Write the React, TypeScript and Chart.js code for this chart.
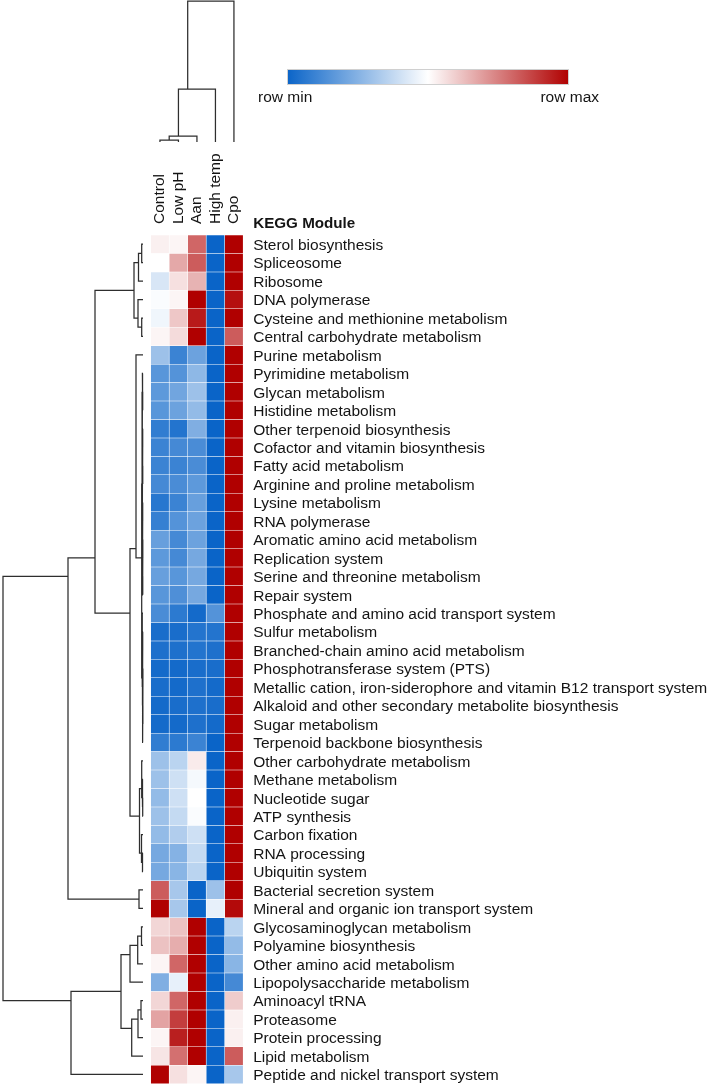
import React, { useEffect, useRef } from 'react';
import { Chart, registerables } from 'chart.js';

Chart.register(...registerables);

// ---------- data ----------
const modules = [
  'Sterol biosynthesis',
  'Spliceosome',
  'Ribosome',
  'DNA polymerase',
  'Cysteine and methionine metabolism',
  'Central carbohydrate metabolism',
  'Purine metabolism',
  'Pyrimidine metabolism',
  'Glycan metabolism',
  'Histidine metabolism',
  'Other terpenoid biosynthesis',
  'Cofactor and vitamin biosynthesis',
  'Fatty acid metabolism',
  'Arginine and proline metabolism',
  'Lysine metabolism',
  'RNA polymerase',
  'Aromatic amino acid metabolism',
  'Replication system',
  'Serine and threonine metabolism',
  'Repair system',
  'Phosphate and amino acid transport system',
  'Sulfur metabolism',
  'Branched-chain amino acid metabolism',
  'Phosphotransferase system (PTS)',
  'Metallic cation, iron-siderophore and vitamin B12 transport system',
  'Alkaloid and other secondary metabolite biosynthesis',
  'Sugar metabolism',
  'Terpenoid backbone biosynthesis',
  'Other carbohydrate metabolism',
  'Methane metabolism',
  'Nucleotide sugar',
  'ATP synthesis',
  'Carbon fixation',
  'RNA processing',
  'Ubiquitin system',
  'Bacterial secretion system',
  'Mineral and organic ion transport system',
  'Glycosaminoglycan metabolism',
  'Polyamine biosynthesis',
  'Other amino acid metabolism',
  'Lipopolysaccharide metabolism',
  'Aminoacyl tRNA',
  'Proteasome',
  'Protein processing',
  'Lipid metabolism',
  'Peptide and nickel transport system',
];

const columns = ['Control', 'Low pH', 'Aan', 'High temp', 'Cpo'];

// row-scaled values: 0 = row min, 1 = row max
const control = [
  0.53, 0.5, 0.42, 0.49, 0.47, 0.52, 0.3, 0.16, 0.17, 0.16,
  0.08, 0.1, 0.1, 0.12, 0.06, 0.09, 0.19, 0.17, 0.19, 0.16,
  0.13, 0.03, 0.04, 0.02, 0.03, 0.02, 0.02, 0.08, 0.3, 0.3,
  0.28, 0.3, 0.28, 0.22, 0.22, 0.82, 1.0, 0.58, 0.62, 0.52,
  0.24, 0.58, 0.68, 0.52, 0.55, 1.0,
];
const lowPH = [
  0.52, 0.67, 0.56, 0.52, 0.61, 0.57, 0.1, 0.15, 0.21, 0.2,
  0.05, 0.12, 0.1, 0.13, 0.1, 0.15, 0.12, 0.12, 0.16, 0.14,
  0.07, 0.03, 0.04, 0.02, 0.02, 0.03, 0.02, 0.07, 0.36, 0.4,
  0.4, 0.38, 0.34, 0.25, 0.26, 0.32, 0.32, 0.62, 0.66, 0.8,
  0.45, 0.8, 0.88, 0.94, 0.78, 0.56,
];
const aan = [
  0.8, 0.82, 0.65, 1.0, 0.95, 1.0, 0.2, 0.27, 0.3, 0.28,
  0.24, 0.13, 0.13, 0.17, 0.19, 0.2, 0.2, 0.22, 0.22, 0.22,
  0.02, 0.05, 0.05, 0.03, 0.04, 0.04, 0.04, 0.1, 0.54, 0.48,
  0.5, 0.49, 0.4, 0.38, 0.36, 0.0, 0.0, 1.0, 1.0, 1.0,
  1.0, 1.0, 1.0, 1.0, 1.0, 0.52,
];
const highTemp = [
  0, 0, 0, 0, 0, 0, 0, 0, 0, 0,
  0, 0, 0, 0, 0, 0, 0, 0, 0, 0,
  0.15, 0.05, 0.04, 0.03, 0.02, 0.03, 0.02, 0, 0, 0,
  0, 0, 0, 0, 0, 0.3, 0.45, 0, 0, 0,
  0, 0, 0, 0, 0, 0,
];
const cpo = [
  1, 1, 1, 0.97, 1, 0.82, 1, 1, 1, 1,
  1, 1, 1, 1, 1, 1, 1, 1, 1, 1,
  1, 1, 1, 1, 1, 1, 1, 1, 1, 1,
  1, 1, 1, 1, 1, 1, 0.98, 0.36, 0.28, 0.26,
  0.12, 0.6, 0.53, 0.53, 0.82, 0.32,
];
const columnValues = [control, lowPH, aan, highTemp, cpo];

// dendrograms: [mergeHeight, left, right]; leaves are row / column indices
const rowTree: any = [140,
  [75,
    [48,
      [9, [4.5, [1.3, 0, 1], 2], [5, 3, [1.3, 4, 5]]],
      [13,
        [7, 6,
          [1.3,
            [1.0, [0.6, 7, [0.3, 8, 9]],
              [0.8, [0.5, [0.3, 10, 11], [0.25, 12, 13]],
                [0.6, [0.3, 14, 15], [0.4, [0.2, 16, 17], [0.25, 18, 19]]]]],
            [0.9, 20, [0.6, [0.3, 21, 22], [0.4, [0.2, [0.1, 23, 24], [0.12, 25, 26]], 27]]]]],
        [3.5, [1.3, 28, [0.7, 29, [0.3, 30, 31]]], [1.5, 32, [0.5, 33, 34]]]]],
    [4, 35, 36]],
  [72,
    [22,
      [13, [5.3, [1.5, 37, 38], 39], 40],
      [11.3, [5, [2, 41, 42], 43], 44]],
    45]];

const colTree: any = [141, [53, [6, [2, 0, 1], 2], 3], 4];

// ---------- helpers ----------
const MIN_C = [10, 100, 200];
const MID_C = [255, 255, 255];
const MAX_C = [176, 0, 0];
const rgb = (c: number[]) => `rgb(${c.map((v) => Math.round(v)).join(',')})`;
function colorFor(v: number) {
  if (v <= 0.5) {
    const t = v / 0.5;
    return rgb(MIN_C.map((a, i) => a + (MID_C[i] - a) * t));
  }
  const t = (v - 0.5) / 0.5;
  return rgb(MID_C.map((a, i) => a + (MAX_C[i] - a) * t));
}

type Pt = { x: number | null; y: number | null };
function buildDendro(node: any, out: Pt[][]): { pos: number; h: number; leaves: number[] } {
  if (typeof node === 'number') return { pos: node, h: 0, leaves: [node] };
  const [h, a, b] = node;
  const ca = buildDendro(a, out);
  const cb = buildDendro(b, out);
  out.push([
    { x: ca.h, y: ca.pos },
    { x: h, y: ca.pos },
    { x: h, y: cb.pos },
    { x: cb.h, y: cb.pos },
  ]);
  const leaves = ca.leaves.concat(cb.leaves);
  const pos = leaves.reduce((s, v) => s + v, 0) / leaves.length;
  return { pos, h, leaves };
}
function segmentsToData(segs: Pt[][], swap: boolean, offset: number) {
  const data: Pt[] = [];
  segs.forEach((s) => {
    s.forEach((p) => {
      data.push(swap ? { x: (p.y as number) + offset, y: p.x } : { x: p.x, y: p.y });
    });
    data.push({ x: null, y: null });
  });
  return data;
}

const textPlugin = {
  id: 'heatmapText',
  afterDraw(chart: any) {
    const { ctx } = chart;
    const x = chart.scales.x;
    const y = chart.scales.y;
    const font = '"Liberation Sans", Arial, sans-serif';
    ctx.save();
    ctx.fillStyle = '#141414';
    ctx.font = `15.5px ${font}`;
    ctx.textAlign = 'left';
    ctx.textBaseline = 'middle';
    const lx = x.getPixelForValue(columns.length) + 10;
    modules.forEach((m, i) => ctx.fillText(m, lx, y.getPixelForValue(i) + 1.5));

    const top = y.getPixelForValue(-0.5);
    columns.forEach((c, j) => {
      ctx.save();
      ctx.translate(x.getPixelForValue(j + 0.5), top - 11);
      ctx.rotate(-Math.PI / 2);
      ctx.textAlign = 'left';
      ctx.textBaseline = 'middle';
      ctx.fillText(c, 0, 0);
      ctx.restore();
    });

    ctx.font = `bold 15.2px ${font}`;
    ctx.textBaseline = 'alphabetic';
    ctx.fillText('KEGG Module', lx, top - 7);

    // colour legend
    const gx0 = 287;
    const gx1 = 569;
    const gy = 69;
    const gh = 16;
    const grad = ctx.createLinearGradient(gx0, 0, gx1, 0);
    grad.addColorStop(0, rgb(MIN_C));
    grad.addColorStop(0.5, rgb(MID_C));
    grad.addColorStop(1, rgb(MAX_C));
    ctx.fillStyle = grad;
    ctx.fillRect(gx0, gy, gx1 - gx0, gh);
    ctx.strokeStyle = '#d0d0d0';
    ctx.lineWidth = 1;
    ctx.strokeRect(gx0 + 0.5, gy + 0.5, gx1 - gx0 - 1, gh - 1);
    ctx.fillStyle = '#141414';
    ctx.font = `15.5px ${font}`;
    ctx.textAlign = 'left';
    ctx.fillText('row min', 258, 102);
    ctx.textAlign = 'right';
    ctx.fillText('row max', 599, 102);
    ctx.restore();
  },
};

export default function App() {
  const ref = useRef<HTMLCanvasElement | null>(null);
  useEffect(() => {
    document.body.style.margin = '0';
    document.documentElement.style.overflow = 'hidden';
    const canvas = ref.current;
    if (!canvas) return;

    const rowSegs: Pt[][] = [];
    buildDendro(rowTree, rowSegs);
    const colSegs: Pt[][] = [];
    buildDendro(colTree, colSegs);

    const barSets = columnValues.map((vals, j) => ({
      type: 'bar' as const,
      label: columns[j],
      indexAxis: 'y' as const,
      grouped: false,
      xAxisID: 'x',
      yAxisID: 'y',
      data: vals.map((v, i) => ({ x: [j, j + 1], y: i })),
      backgroundColor: vals.map(colorFor),
      borderColor: 'rgba(255,255,255,0.14)',
      borderWidth: 0.6,
      borderSkipped: false as const,
      barPercentage: 1,
      categoryPercentage: 1,
    }));

    const lineStyle = {
      borderColor: '#2e2e2e',
      borderWidth: 1.25,
      pointRadius: 0,
      pointHoverRadius: 0,
      fill: false,
      tension: 0,
      spanGaps: false,
    };

    const chart = new Chart(canvas, {
      type: 'bar',
      data: {
        datasets: [
          ...barSets,
          {
            type: 'line',
            label: 'rows',
            xAxisID: 'xd',
            yAxisID: 'y',
            data: segmentsToData(rowSegs, false, 0),
            ...lineStyle,
          },
          {
            type: 'line',
            label: 'cols',
            xAxisID: 'x',
            yAxisID: 'yd',
            data: segmentsToData(colSegs, true, 0.5),
            ...lineStyle,
          },
        ] as any,
      },
      options: {
        animation: false,
        responsive: false,
        maintainAspectRatio: false,
        layout: { padding: 0, autoPadding: false },
        events: [],
        plugins: { legend: { display: false }, tooltip: { enabled: false }, title: { display: false } },
        scales: {
          x: { type: 'linear', display: false, offset: false, min: -8.146, max: 30.18 },
          y: { type: 'linear', display: false, offset: false, reverse: true, min: -13.237, max: 45.516 },
          xd: { type: 'linear', axis: 'x', position: 'bottom', display: false, offset: false, reverse: true, min: -566, max: 143 },
          yd: { type: 'linear', axis: 'y', position: 'left', display: false, offset: false, min: -942, max: 142 },
        } as any,
      },
      plugins: [textPlugin],
    });
    return () => chart.destroy();
  }, []);

  return (
    <div style={{ width: 709, height: 1084, background: '#fff' }}>
      <canvas ref={ref} width={709} height={1084} style={{ display: 'block', width: 709, height: 1084 }} />
    </div>
  );
}
